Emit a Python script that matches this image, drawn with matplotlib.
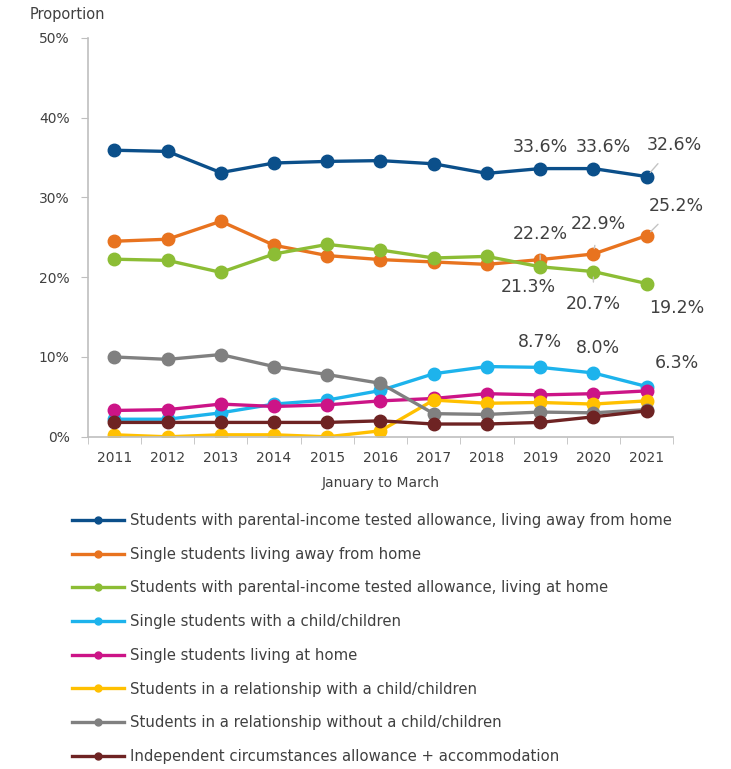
import matplotlib
matplotlib.use("Agg")
import matplotlib.pyplot as plt
from matplotlib.lines import Line2D
from matplotlib.ticker import FixedLocator, FuncFormatter

years = [2011, 2012, 2013, 2014, 2015, 2016, 2017, 2018, 2019, 2020, 2021]

away_parental = [35.9, 35.75, 33.1, 34.3, 34.5, 34.6, 34.2, 33.0, 33.6, 33.6, 32.6]
single_away = [24.5, 24.75, 27.0, 24.0, 22.7, 22.2, 21.9, 21.6, 22.2, 22.9, 25.2]
home_parental = [22.25, 22.1, 20.6, 22.9, 24.1, 23.4, 22.4, 22.6, 21.3, 20.7, 19.2]
single_child = [2.2, 2.2, 3.0, 4.1, 4.6, 5.8, 7.9, 8.8, 8.7, 8.0, 6.3]
single_home = [3.3, 3.4, 4.1, 3.8, 4.0, 4.5, 4.8, 5.4, 5.25, 5.4, 5.75]
rel_child = [0.25, 0.0, 0.25, 0.25, 0.0, 0.75, 4.6, 4.2, 4.3, 4.1, 4.5]
rel_nochild = [10.0, 9.7, 10.3, 8.8, 7.8, 6.7, 2.9, 2.8, 3.1, 3.0, 3.4]
independent = [1.8, 1.8, 1.8, 1.8, 1.8, 2.0, 1.6, 1.6, 1.8, 2.5, 3.25]

labels = [
    "Students with parental-income tested allowance, living away from home",
    "Single students living away from home",
    "Students with parental-income tested allowance, living at home",
    "Single students with a child/children",
    "Single students living at home",
    "Students in a relationship with a child/children",
    "Students in a relationship without a child/children",
    "Independent circumstances allowance + accommodation",
]
colors = ["#0B4F8A", "#E8731F", "#8CBD35", "#1DB3EC", "#CC1487", "#FFC000", "#808080", "#6E2323"]
series = [away_parental, single_away, home_parental, single_child,
          single_home, rel_child, rel_nochild, independent]

# (series index, year index, text, pixel offset of label, leader line)
annotations = [
    (0, 8, "33.6%", (0, 22), False), (0, 9, "33.6%", (10, 22), False), (0, 10, "32.6%", (28, 32), True),
    (1, 8, "22.2%", (0, 26), True), (1, 9, "22.9%", (5, 30), True), (1, 10, "25.2%", (30, 30), True),
    (2, 8, "21.3%", (-12, -20), False), (2, 9, "20.7%", (0, -32), True), (2, 10, "19.2%", (30, -24), False),
    (3, 8, "8.7%", (0, 25), False), (3, 9, "8.0%", (5, 25), False), (3, 10, "6.3%", (30, 24), False),
]

plt.rcParams['font.family'] = ['DejaVu Sans']
fig = plt.figure(figsize=(7.31, 7.69), dpi=100)
ax = fig.add_axes([0.120, 0.432, 0.801, 0.519])

for vals, c in zip(series, colors):
    ax.plot(years, vals, color=c, lw=2.4, marker="o", ms=9, solid_capstyle="round")

for si, yi, txt, off, leader in annotations:
    ax.annotate(txt, (years[yi], series[si][yi]), xytext=off, textcoords="offset pixels",
                ha="center", va="center", fontsize=12.5, color="#404040",
                arrowprops=dict(arrowstyle="-", color="#C4C4C4", lw=1.0, shrinkA=7, shrinkB=4) if leader else None)

ax.set_xlim(2010.5, 2021.5)
ax.set_ylim(0, 50)
ax.set_xticks(years)
ax.set_xticklabels([str(y) for y in years], fontsize=10, color="#404040")
ax.xaxis.set_minor_locator(FixedLocator([y - 0.5 for y in years] + [2021.5]))
ax.tick_params(axis="x", which="major", length=0, pad=10)
ax.tick_params(axis="x", which="minor", length=5, color="#BFBFBF", direction="out")
ax.set_yticks(range(0, 51, 10))
ax.yaxis.set_major_formatter(FuncFormatter(lambda v, p: f"{int(v)}%"))
ax.tick_params(axis="y", length=5, color="#BFBFBF", labelsize=10, labelcolor="#404040", pad=8)
for s in ["top", "right"]:
    ax.spines[s].set_visible(False)
for s in ["left", "bottom"]:
    ax.spines[s].set_color("#BFBFBF")
    ax.spines[s].set_linewidth(1.2)
ax.set_xlabel("January to March", fontsize=10, color="#404040", labelpad=8)
fig.text(30 / 731, 1 - 15 / 769, "Proportion", fontsize=10.5, color="#404040", va="center", ha="left")

handles = [Line2D([], [], color=c, lw=2.4, marker="o", ms=5) for c in colors]
fig.legend(handles, labels, loc="upper left", bbox_to_anchor=(72 / 731, 1 - 513 / 769),
           frameon=False, fontsize=10.7, handlelength=3.5, handletextpad=0.4,
           labelspacing=1.26, borderpad=0, borderaxespad=0, labelcolor="#404040")

fig.savefig("out.png", dpi=100)
